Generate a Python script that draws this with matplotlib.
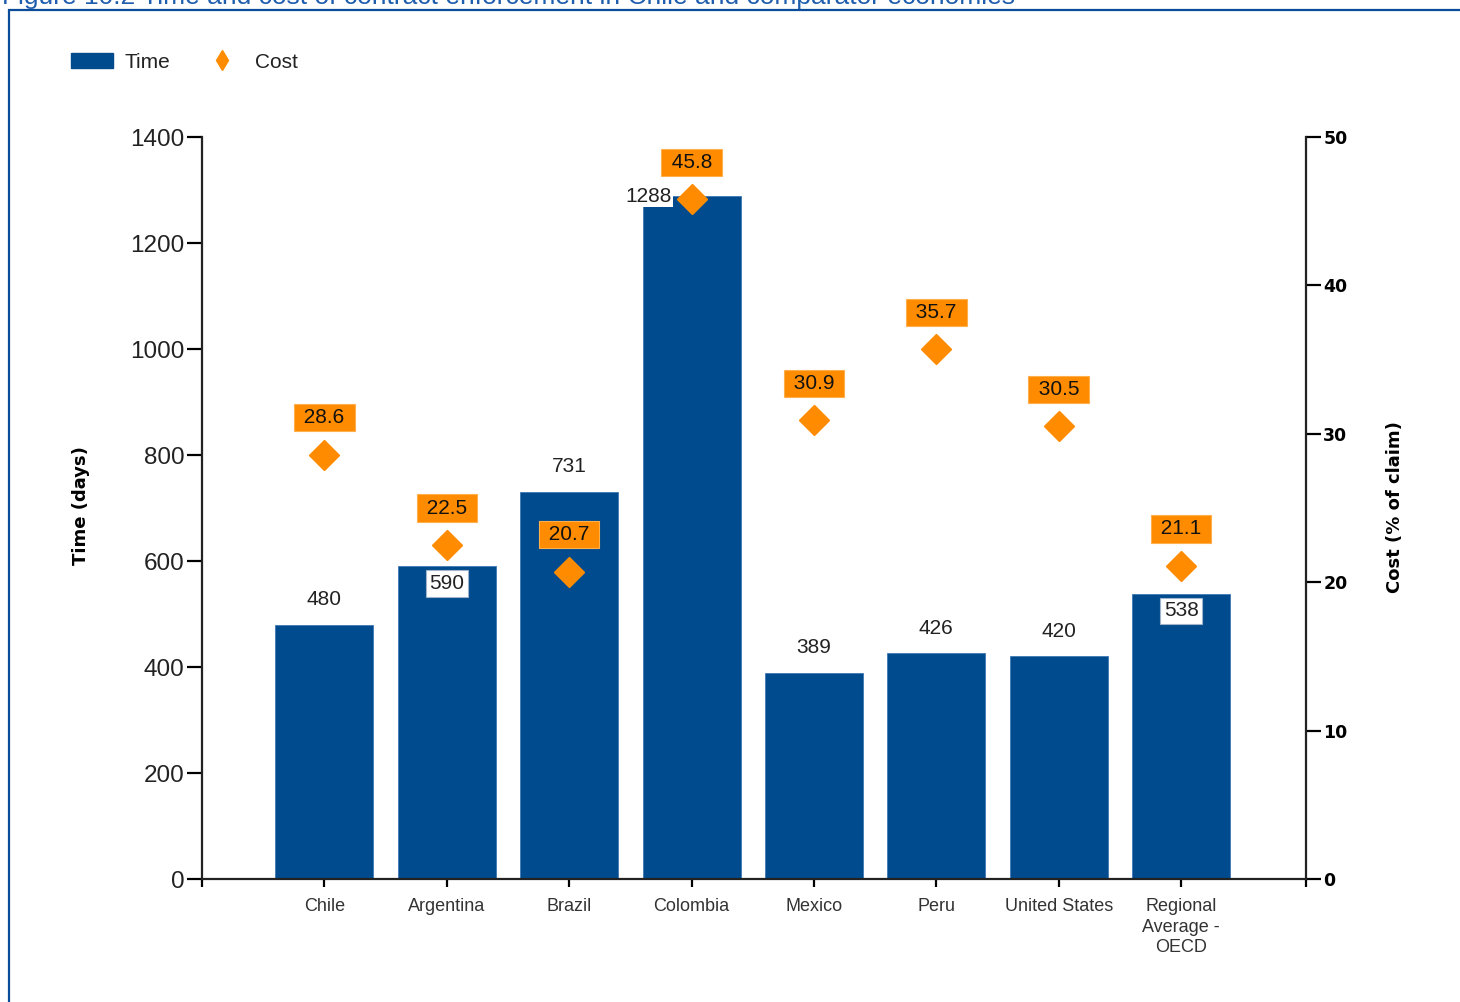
import numpy as np
import matplotlib.pyplot as plt
from matplotlib.patches import Patch, Rectangle
from matplotlib.lines import Line2D

# time and cost of contract enforcement, Chile vs comparators
countries = ['Chile', 'Argentina', 'Brazil', 'Colombia', 'Mexico', 'Peru',
             'United States', 'Regional\nAverage -\nOECD']
time_days = [480, 590, 731, 1288, 389, 426, 420, 538]
cost_pct = [28.6, 22.5, 20.7, 45.8, 30.9, 35.7, 30.5, 21.1]

# where each time label goes
time_lab_style = ['above', 'inside', 'above', 'left', 'above', 'above', 'above', 'inside']

BLUE = '#004B8D'
ORANGE = '#FF8C00'
TXT = '#222222'
PX = 0.72  # points per pixel at dpi 100

plt.rcParams['font.family'] = ['Liberation Sans', 'DejaVu Sans']

fig = plt.figure(figsize=(14.6, 10.02), dpi=100)
ax = fig.add_axes([202/1460, 1-879/1002, (1306-202)/1460, (879-137)/1002])
ax2 = ax.twinx()

x = np.arange(1, len(countries)+1)
ax.bar(x, time_days, width=0.8, color=BLUE, edgecolor='#3f78b5', linewidth=0.6, zorder=2)
ax2.plot(x, cost_pct, 'D', color=ORANGE, ms=15.5, mec=ORANGE, zorder=3)

ax.set_xlim(0, 9.02)
ax.set_ylim(0, 1400)
ax2.set_ylim(0, 50)

for a in (ax, ax2):
    a.spines['top'].set_visible(False)
    for s in a.spines.values():
        s.set_linewidth(1.6)
        s.set_color('#222222')
ax.spines['right'].set_visible(False)
ax2.spines['left'].set_visible(False)
ax2.spines['bottom'].set_visible(False)

ax.set_yticks(np.arange(0, 1401, 200))
ax.tick_params(axis='y', length=10.5, width=1.6, pad=2, labelsize=17.5, labelcolor=TXT)
ax.set_xticks(x)
ax.set_xticklabels(countries, fontsize=13, color='#333333', linespacing=1.25)
ax.set_xticks([0, 9.02], minor=True)
ax.tick_params(axis='x', which='both', length=6, width=1.6, pad=8)

ax2.set_yticks(np.arange(0, 51, 10))
ax2.tick_params(axis='y', length=10.5, width=1.6, pad=2, labelsize=12.5)
for lab in ax2.get_yticklabels():
    lab.set_fontweight('bold')
    lab.set_family('DejaVu Sans')

ax.set_ylabel('Time (days)', fontsize=13, fontweight='bold', family='DejaVu Sans')
ax.yaxis.set_label_coords(-(202-90)/1104, (879-506)/742)
ax2.set_ylabel('Cost (% of claim)', fontsize=13, fontweight='bold', family='DejaVu Sans',
               rotation=90)
ax2.yaxis.set_label_coords((1386-202)/1104, (879-507)/742)

# time labels
for xi, v, st in zip(x, time_days, time_lab_style):
    if st == 'above':
        ax.annotate(str(v), (xi, v), xytext=(0, 25*PX), textcoords='offset points',
                    ha='center', va='center', fontsize=15, color=TXT, zorder=4)
    elif st == 'inside':
        ax.annotate(str(v), (xi, v), xytext=(0, -17*PX), textcoords='offset points',
                    ha='center', va='center', fontsize=15, color=TXT, zorder=4,
                    bbox=dict(boxstyle='square,pad=0.18', fc='white', ec='#9fb3cc', lw=0.8))
    else:
        ax.annotate(str(v), (xi, v), xytext=(-43*PX, 0), textcoords='offset points',
                    ha='center', va='center', fontsize=15, color=TXT, zorder=4,
                    bbox=dict(boxstyle='square,pad=0.05', fc='white', ec='none'))

# cost labels
for xi, c in zip(x, cost_pct):
    ax2.annotate(f' {c:.1f} ', (xi, c), xytext=(0, 37*PX), textcoords='offset points',
                 ha='center', va='center', fontsize=15, color='#111111', zorder=5,
                 bbox=dict(boxstyle='square,pad=0.2', fc=ORANGE, ec='#ffb04d', lw=0.8))

# legend
handles = [Patch(facecolor=BLUE, edgecolor=BLUE),
           Line2D([], [], ls='none', marker='d', ms=10, color=ORANGE)]
fig.legend(handles, ['Time', 'Cost'], loc='center left',
           bbox_to_anchor=(52/1460, 1-62/1002), ncol=2, frameon=False,
           fontsize=15, handlelength=2.05, handleheight=0.75,
           handletextpad=0.55, columnspacing=1.45, labelcolor=TXT)

# cropped figure title and page frame
fig.text(2/1460, 1-4/1002,
         'Figure 10.2 Time and cost of contract enforcement in Chile and comparator economies',
         fontsize=19, color='#1F5DAD', ha='left', va='baseline')
fig.add_artist(Rectangle((9/1460, -0.05), 1.1, 1.05-10/1002, transform=fig.transFigure,
                         fill=False, ec='#0B4C9A', lw=1.6, clip_on=False))

fig.savefig('out.png', dpi=100)
